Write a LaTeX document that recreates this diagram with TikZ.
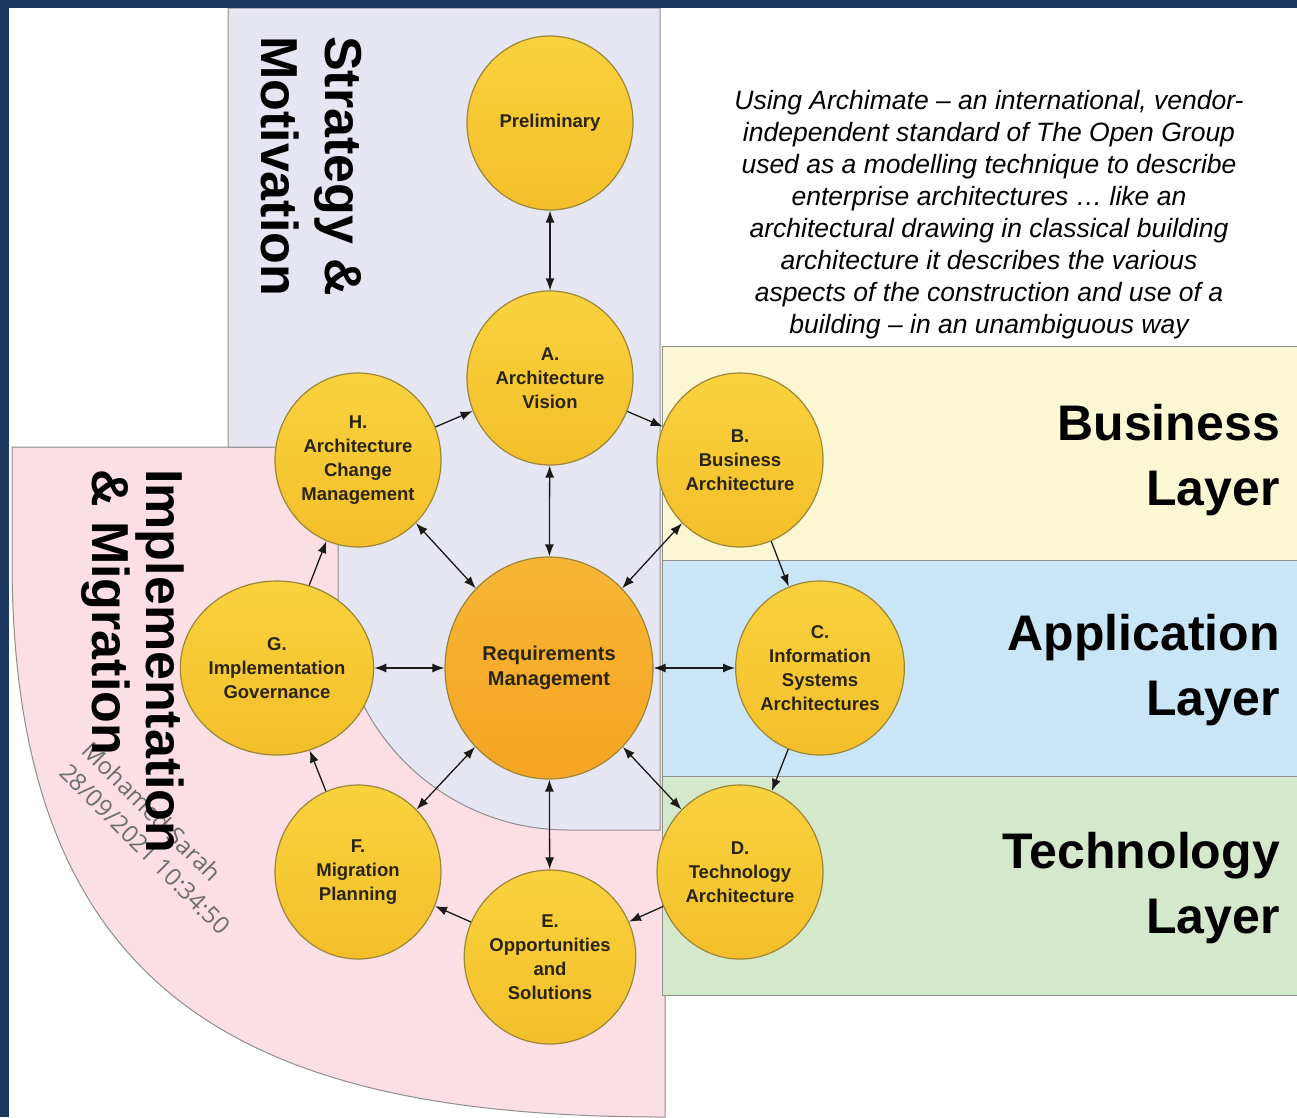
\documentclass[tikz,border=0pt]{standalone}
\usepackage{fontspec}
\setmainfont{Liberation Sans}
\newfontfamily\wmfont{Open Sans}
\usetikzlibrary{arrows.meta,shapes.geometric}
\definecolor{navy}{HTML}{1B365F}
\definecolor{lav}{HTML}{E5E6F2}
\definecolor{pinkc}{HTML}{FBDFE4}
\definecolor{busc}{HTML}{FBF7D3}
\definecolor{appc}{HTML}{C9E5F6}
\definecolor{tecc}{HTML}{D4E8CB}
\definecolor{edge}{HTML}{8E8E8E}
\definecolor{goldtop}{HTML}{F9D23E}
\definecolor{goldbot}{HTML}{F3BF2A}
\definecolor{orgtop}{HTML}{F8B634}
\definecolor{orgbot}{HTML}{F4A523}
\definecolor{circedge}{HTML}{9C8638}
\definecolor{txt}{HTML}{2A2412}
\definecolor{arrc}{HTML}{1A1A1A}
\definecolor{wmc}{HTML}{6E6E6E}
\tikzset{
  phase/.style={ellipse, minimum width=166pt, minimum height=174pt, inner sep=0pt,
    draw=circedge, line width=1.2pt, top color=goldtop, bottom color=goldbot,
    align=center, text=txt, font=\bfseries\fontsize{18.5}{24}\selectfont},
  reqc/.style={phase, minimum width=208pt, minimum height=222pt,
    top color=orgtop, bottom color=orgbot, font=\bfseries\fontsize{20}{25}\selectfont},
  cyc/.style={draw=arrc, line width=1.3pt, -{Latex[length=12pt,width=9pt]}},
  dbl/.style={draw=arrc, line width=1.3pt, {Latex[length=12pt,width=9pt]}-{Latex[length=12pt,width=9pt]}},
  bigtitle/.style={inner sep=0pt, text=black, font=\bfseries\fontsize{52}{62}\selectfont},
  laytitle/.style={bigtitle, font=\bfseries\fontsize{50}{60}\selectfont},
  wm/.style={inner sep=0pt, text=wmc, font=\wmfont\fontsize{24}{28}\selectfont},
  region/.style={draw=edge, line width=1pt}
}
\begin{document}
\begin{tikzpicture}[x=1pt,y=-1pt]
\useasboundingbox (0,0) rectangle (1297,1117);
\fill[white] (0,0) rectangle (1297,1117);
% regions
\filldraw[region, fill=pinkc] (12,447) -- (665,447) -- (665,1117)
  .. controls (250,1117) and (12,1000) .. (12,560) -- cycle;
\filldraw[region, fill=lav] (228,8) -- (660,8) -- (660,830) -- (568,830)
  arc[start angle=90, end angle=180, radius=230] -- (338,447) -- (228,447) -- cycle;
\filldraw[region, fill=busc] (662,346) rectangle (1297,560);
\filldraw[region, fill=appc] (662,560) rectangle (1297,776);
\filldraw[region, fill=tecc] (662,776) rectangle (1297,995);
% frame
\fill[navy] (0,0) rectangle (1297,8);
\fill[navy] (0,0) rectangle (9,1117);
% watermark
\node[wm, rotate=-45, anchor=base west] (w1) at (80,752) {Mohamed Sarah};
\node[wm, rotate=-45, anchor=base west] (w2) at (58,774) {28/09/2021 10:34:50};
% rotated titles
\node[bigtitle, rotate=-90, anchor=base west] (s1) at (325,36) {Strategy \&};
\node[bigtitle, rotate=-90, anchor=base west] (s2) at (261,36) {Motivation};
\node[bigtitle, rotate=-90, anchor=base west] (i1) at (146,469) {Implementation};
\node[bigtitle, rotate=-90, anchor=base west] (i2) at (92,469) {\& Migration};
% layer titles
\node[laytitle, anchor=base east] (bl1) at (1280,440) {Business};
\node[laytitle, anchor=base east] (bl2) at (1280,505) {Layer};
\node[laytitle, anchor=base east] (al1) at (1280,650) {Application};
\node[laytitle, anchor=base east] (al2) at (1280,715) {Layer};
\node[laytitle, anchor=base east] (tl1) at (1280,868) {Technology};
\node[laytitle, anchor=base east] (tl2) at (1280,933) {Layer};
% description
\node[align=center, inner sep=0pt, font=\itshape\fontsize{26.5}{32}\selectfont] (desc) at (989,215)
 {Using Archimate -- an international, vendor-\\
  independent standard of The Open Group\\
  used as a modelling technique to describe\\
  enterprise architectures \dots\ like an\\
  architectural drawing in classical building\\
  architecture it describes the various\\
  aspects of the construction and use of a\\
  building -- in an unambiguous way};
% phases
\node[phase] (P) at (550,123) {Preliminary};
\node[phase] (A) at (550,378) {A.\\Architecture\\Vision};
\node[phase] (B) at (740,460) {B.\\Business\\Architecture};
\node[phase] (C) at (820,668) {C.\\Information\\Systems\\Architectures};
\node[phase] (D) at (740,872) {D.\\Technology\\Architecture};
\node[phase] (E) at (550,957) {E.\\Opportunities\\and\\Solutions};
\node[phase] (F) at (358,872) {F.\\Migration\\Planning};
\node[phase] (G) at (277,668) {G.\\Implementation\\Governance};
\node[phase] (H) at (358,460) {H.\\Architecture\\Change\\Management};
\node[reqc] (R) at (549,668) {Requirements\\Management};
% connectors
\draw[dbl] (P) -- (A);
\foreach \n in {A,B,C,D,E,F,G,H} { \draw[dbl] (R) -- (\n); }
\draw[cyc] (H) -- (A);
\draw[cyc] (A) -- (B);
\draw[cyc] (B) -- (C);
\draw[cyc] (C) -- (D);
\draw[cyc] (D) -- (E);
\draw[cyc] (E) -- (F);
\draw[cyc] (F) -- (G);
\draw[cyc] (G) -- (H);
\end{tikzpicture}
\end{document}
